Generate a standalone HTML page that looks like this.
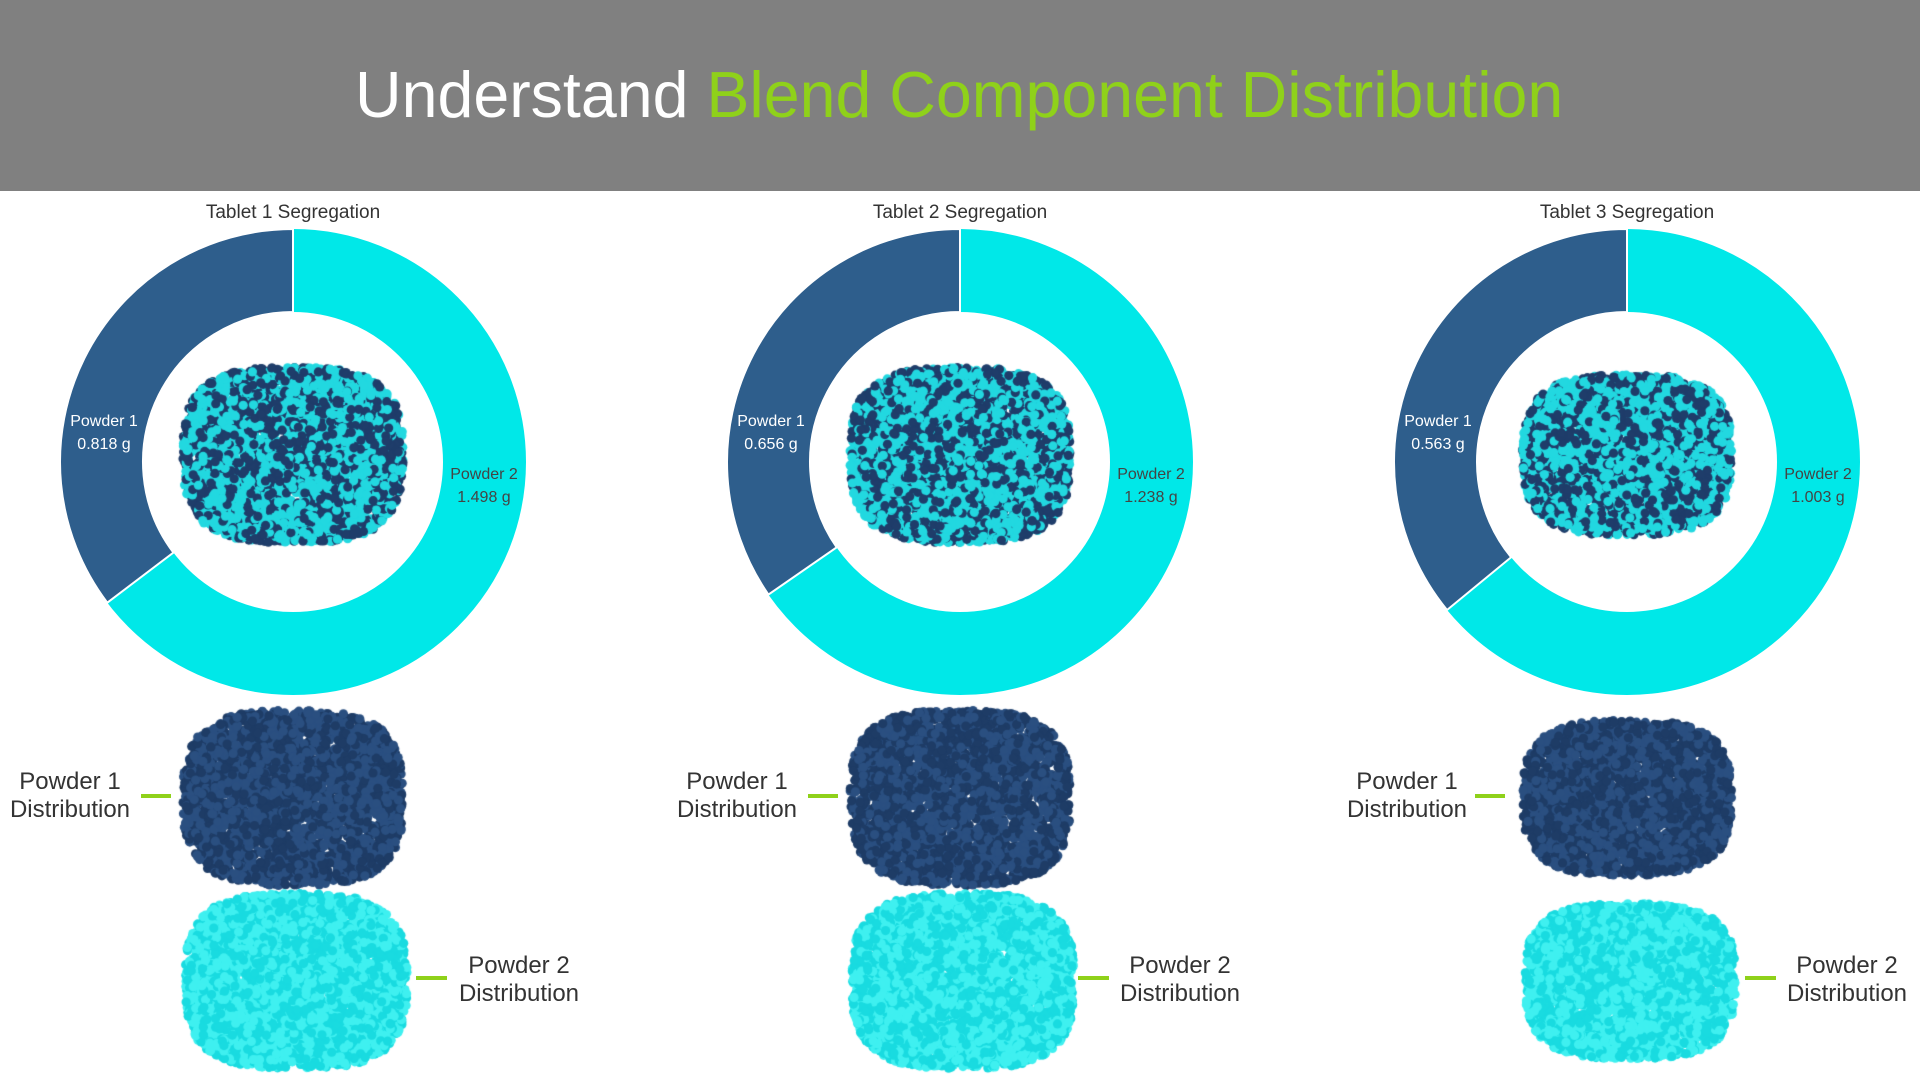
<!DOCTYPE html>
<html><head><meta charset="utf-8"><style>
html,body{margin:0;padding:0;background:#fff;}
body{width:1920px;height:1080px;position:relative;overflow:hidden;font-family:"Liberation Sans",sans-serif;}
#hdr{position:absolute;left:0;top:0;width:1920px;height:191px;background:#808080;}
#hdr div{position:absolute;left:355px;top:58px;font-size:64.5px;color:#fff;white-space:nowrap;}
#hdr span{color:#8fd11a;}
svg,canvas{position:absolute;left:0;top:0;}
.t{font-family:"Liberation Sans",sans-serif;}
</style></head><body>
<div id="hdr"><div>Understand <span>Blend Component Distribution</span></div></div>
<svg width="1920" height="1080" id="s"></svg>
<canvas id="c" width="1920" height="1080"></canvas>
<script>
var data=[[293,0.818,1.498,70,519,416],[960,0.656,1.238,737,1180,1078],[1627,0.563,1.003,1407,1847,1745]];
var s=document.getElementById('s'),h='';
var cy=462,R=233,r=150;
function pt(cx,a,rad){return [cx+rad*Math.sin(a),cy-rad*Math.cos(a)];}
data.forEach(function(d,i){
 var cx=d[0],f=d[1]/(d[1]+d[2]),a=-f*2*Math.PI;
 var o=pt(cx,a,R),n=pt(cx,a,r);
 h+='<circle cx="'+cx+'" cy="'+cy+'" r="'+(R+r)/2+'" fill="none" stroke="#00e8e8" stroke-width="'+(R-r)+'"/>';
 h+='<path d="M'+cx+','+(cy-R)+' A'+R+','+R+' 0 0 0 '+o[0]+','+o[1]+' L'+n[0]+','+n[1]+' A'+r+','+r+' 0 0 1 '+cx+','+(cy-r)+' Z" fill="#2e5e8c" stroke="#fff" stroke-width="2"/>';
 h+='<text class="t" x="'+cx+'" y="218" font-size="19" fill="#333" text-anchor="middle">Tablet '+(i+1)+' Segregation</text>';
 h+='<text class="t" x="'+(cx-189)+'" y="426" font-size="16" fill="#fff" text-anchor="middle">Powder 1</text>';
 h+='<text class="t" x="'+(cx-189)+'" y="449" font-size="16" fill="#fff" text-anchor="middle">'+d[1].toFixed(3)+' g</text>';
 h+='<text class="t" x="'+(cx+191)+'" y="479" font-size="16" fill="#444" text-anchor="middle">Powder 2</text>';
 h+='<text class="t" x="'+(cx+191)+'" y="502" font-size="16" fill="#444" text-anchor="middle">'+d[2].toFixed(3)+' g</text>';
 h+='<text class="t" x="'+d[3]+'" y="789" font-size="24" fill="#333" text-anchor="middle">Powder 1</text>';
 h+='<text class="t" x="'+d[3]+'" y="817" font-size="24" fill="#333" text-anchor="middle">Distribution</text>';
 h+='<rect x="'+(cx-152)+'" y="794" width="30" height="4" fill="#8fd11a"/>';
 h+='<text class="t" x="'+d[4]+'" y="973" font-size="24" fill="#333" text-anchor="middle">Powder 2</text>';
 h+='<text class="t" x="'+d[4]+'" y="1001" font-size="24" fill="#333" text-anchor="middle">Distribution</text>';
 h+='<rect x="'+d[5]+'" y="976" width="31" height="4" fill="#8fd11a"/>';
});
s.innerHTML=h;
var c=document.getElementById('c').getContext('2d');
var seed=7;function rnd(){seed=(seed*16807)%2147483647;return seed/2147483647;}
function blob(cx,cy,w,hh,mode,dens){
 var n=Math.floor(w*hh/dens);
 for(var k=0;k<n;k++){
  var x=(rnd()-0.5)*w,y=(rnd()-0.5)*hh;
  var ex=x/(w/2),ey=y/(hh/2);
  if(Math.pow(Math.abs(ex),3)+Math.pow(Math.abs(ey),3)>1)continue;
  var col;
  if(mode==0)col=rnd()<0.45?'#1f3d6a':'#22d8e0';
  else if(mode==1)col=rnd()<0.5?'#1e3c66':'#2a4f80';
  else col=rnd()<0.5?'#19dbe0':'#3ff0f0';
  c.fillStyle=col;c.beginPath();c.arc(cx+x,cy+y,4.6,0,6.3);c.fill();
 }
}
data.forEach(function(d,i){
 var cx=d[0],sc=i==2?0.95:1;
 blob(cx,455,220*sc,i==2?160:175,0,9);
 blob(cx,798,220*sc,i==2?155:175,1,11);
 blob(cx+3,981,222*sc,i==2?155:175,2,9);
});
</script>
</body></html>
